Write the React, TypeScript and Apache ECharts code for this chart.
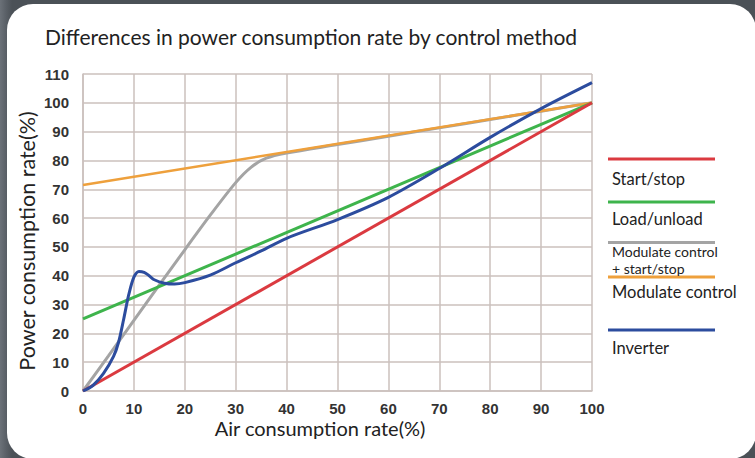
import React, { useEffect, useRef } from "react";
import * as echarts from "echarts";

const xTicks = [0, 10, 20, 30, 40, 50, 60, 70, 80, 90, 100];

const startStop: [number, number][] = [[0, 0], [100, 100]];
const loadUnload: [number, number][] = [[0, 25], [100, 100]];
const modulateStartStop: [number, number][] = [
  [0, 0], [5, 12.2], [10, 24.5], [15, 36.8], [20, 49], [25, 61], [30, 72.3],
  [33, 77.6], [36, 80.8], [40, 82.6], [50, 85.5], [60, 88.4], [70, 91.3],
  [80, 94.2], [90, 97.1], [100, 100],
];
const modulate: [number, number][] = [[0, 71.5], [100, 100]];
const inverter: [number, number][] = [
  [0, 0], [2, 2], [4, 6], [6, 12], [7, 17], [8, 25], [9, 33.5], [10, 39.5],
  [11, 41.5], [12, 41.2], [13, 40], [14, 38.6], [16, 37.4], [18, 37.1],
  [20, 37.6], [25, 40.2], [30, 44.5], [35, 48.6], [40, 53], [50, 59.5],
  [60, 67.2], [70, 77.2], [80, 88], [90, 98], [100, 107],
];

const legendLabels = ["Start/stop", "Load/unload", "Modulate control", "Modulate control", "Inverter"];
const legendColors = ["#db3a40", "#3eb44c", "#a4a4a4", "#eea03c", "#2c4c9e"];
const extraLabel = "+ start/stop";

export default function App() {
  const ref = useRef<HTMLDivElement>(null);
  useEffect(() => {
    if (!ref.current) return;
    const chart = echarts.init(ref.current, undefined, { renderer: "svg" });
    const gridColor = "#cbc1bd";
    const font = "Lato";
    const lineY = [159, 202, 242.5, 277, 330];
    const textY = [179, 219, 251.5, 292, 348];
    const graphics: any[] = [];
    const txt = (text: string, x: number, y: number, size: number) => ({
      type: "text",
      x,
      y,
      style: {
        text,
        fill: "#222",
        font: `${size}px ${font}`,
        textAlign: "left",
        textVerticalAlign: "middle",
      },
    });
    legendLabels.forEach((name, i) => {
      graphics.push({
        type: "line",
        shape: { x1: 608, y1: lineY[i], x2: 715, y2: lineY[i] },
        style: { stroke: legendColors[i], lineWidth: 3 },
      });
      graphics.push(txt(name, 612, textY[i], i === 2 ? 14 : 16.5));
    });
    graphics.push(txt(extraLabel, 612, 268.5, 14));
    graphics.push({
      type: "text",
      x: 27,
      y: 241,
      rotation: Math.PI / 2,
      style: {
        text: "Power consumption rate(%)",
        fill: "#222",
        font: `21.5px ${font}`,
        textAlign: "center",
        textVerticalAlign: "middle",
      },
    });
    graphics.push({
      type: "text",
      x: 320,
      y: 428,
      style: {
        text: "Air consumption rate(%)",
        fill: "#222",
        font: `20px ${font}`,
        textAlign: "center",
        textVerticalAlign: "middle",
      },
    });

    const mk = (name: string, data: [number, number][], color: string, smooth: number | boolean, width = 3) => ({
      name,
      type: "line",
      data,
      smooth,
      symbol: "none",
      lineStyle: { color, width },
      itemStyle: { color },
    });

    chart.setOption({
      animation: false,
      title: {
        text: "Differences in power consumption rate by control method",
        left: 40,
        top: 21,
        textStyle: { fontFamily: font, fontSize: 21, fontWeight: "normal", color: "#222" },
      },
      grid: { left: 83, top: 74, width: 509, height: 317 },
      xAxis: {
        type: "value",
        min: 0,
        max: 100,
        interval: 10,
        axisLine: { lineStyle: { color: gridColor, width: 1.5 } },
        axisTick: { show: false },
        splitLine: { lineStyle: { color: gridColor, width: 1.5 } },
        axisLabel: {
          formatter: (v: number) => (xTicks.includes(v) ? String(v) : ""),
          fontFamily: "Liberation Sans",
          fontWeight: "bold",
          fontSize: 15,
          color: "#333",
          margin: 10,
        },
      },
      yAxis: {
        type: "value",
        min: 0,
        max: 110,
        interval: 10,
        axisLine: { show: true, lineStyle: { color: gridColor, width: 1.5 } },
        axisTick: { show: false },
        splitLine: { lineStyle: { color: gridColor, width: 1.5 } },
        axisLabel: {
          fontFamily: "Liberation Sans",
          fontWeight: "bold",
          fontSize: 15,
          color: "#333",
          margin: 14,
        },
      },
      graphic: graphics,
      series: [
        mk("Modulate control + start/stop", modulateStartStop, "#a4a4a4", 0.3),
        mk("Modulate control", modulate, "#eea03c", false, 2.5),
        mk("Load/unload", loadUnload, "#3eb44c", false),
        mk("Start/stop", startStop, "#db3a40", false),
        mk("Inverter", inverter, "#2c4c9e", 0.3),
      ],
    });
    return () => chart.dispose();
  }, []);

  return (
    <div
      style={{
        position: "fixed",
        left: 0,
        top: 0,
        width: 755,
        height: 458,
        background: "linear-gradient(90deg, #6b7178 0px, #5a6067 6px, #4b5157 12px)",
        overflow: "hidden",
      }}
    >
      <div
        style={{
          position: "absolute",
          left: 7,
          top: 4,
          width: 749,
          height: 455,
          background: "#fff",
          borderRadius: 26,
        }}
      />
      <div ref={ref} style={{ position: "absolute", left: 0, top: 0, width: 755, height: 458 }} />
    </div>
  );
}
